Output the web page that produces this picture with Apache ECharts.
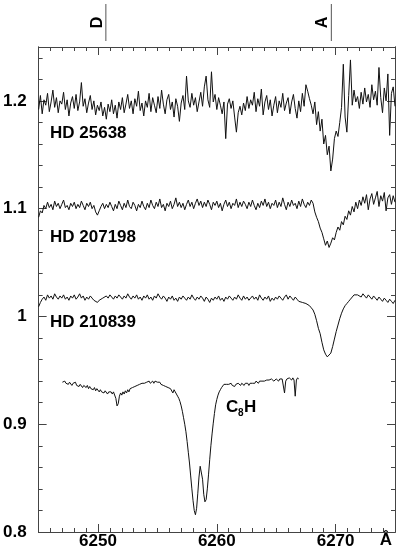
<!DOCTYPE html>
<html><head><meta charset="utf-8">
<script src="https://cdn.jsdelivr.net/npm/echarts@6/dist/echarts.min.js"></script>
<style>html,body{margin:0;padding:0;background:#fff}#c{width:400px;height:556px}</style>
</head><body><div id="c"></div>
<script>
// Stellar spectra sampled on a uniform wavelength grid (Å)
const starWaveStart = 6245.0, starWaveStep = 0.15;
const hd25638 = [
1.192,1.205,1.188,1.201,1.196,1.207,1.190,1.199,1.210,1.194,1.203,1.189,1.200,1.197,1.208,1.192,1.201,1.186,1.198,1.204,
1.193,1.206,1.191,1.199,1.217,1.195,1.202,1.189,1.198,1.205,1.192,1.200,1.187,1.196,1.191,1.199,1.186,1.194,1.183,1.197,
1.190,1.201,1.188,1.196,1.184,1.199,1.192,1.203,1.189,1.197,1.206,1.193,1.200,1.188,1.202,1.195,1.209,1.191,1.198,1.186,
1.200,1.194,1.207,1.190,1.203,1.196,1.189,1.204,1.193,1.210,1.197,1.188,1.201,1.206,1.192,1.199,1.185,1.202,1.195,1.181,
1.198,1.205,1.192,1.223,1.200,1.194,1.207,1.196,1.203,1.190,1.199,1.208,1.195,1.213,1.223,1.201,1.194,1.227,1.199,1.206,
1.192,1.203,1.196,1.188,1.199,1.165,1.197,1.202,1.193,1.200,1.185,1.171,1.189,1.195,1.187,1.198,1.191,1.204,1.193,1.201,
1.196,1.208,1.190,1.202,1.195,1.211,1.187,1.199,1.205,1.192,1.201,1.186,1.196,1.204,1.189,1.200,1.194,1.207,1.191,1.198,
1.203,1.188,1.199,1.206,1.193,1.184,1.200,1.190,1.207,1.195,1.215,1.209,1.202,1.196,1.188,1.199,1.178,1.190,1.172,1.183,
1.160,1.168,1.150,1.158,1.135,1.146,1.165,1.172,1.167,1.180,1.194,1.234,1.185,1.171,1.205,1.238,1.196,1.210,1.199,1.204,
1.193,1.208,1.197,1.212,1.199,1.206,1.194,1.215,1.201,1.209,1.196,1.231,1.203,1.189,1.212,1.200,1.225,1.168,1.207,1.213,1.195
];
const hd207198 = [
1.092,1.098,1.096,1.103,1.100,1.106,1.101,1.104,1.099,1.107,1.102,1.105,1.100,1.104,1.108,1.101,1.103,1.099,1.105,1.102,
1.106,1.100,1.104,1.101,1.107,1.103,1.099,1.105,1.102,1.106,1.100,1.103,1.097,1.094,1.098,1.102,1.105,1.100,1.104,1.101,
1.106,1.102,1.098,1.104,1.100,1.107,1.103,1.099,1.105,1.101,1.108,1.102,1.100,1.106,1.103,1.098,1.104,1.101,1.107,1.102,
1.099,1.105,1.101,1.108,1.103,1.100,1.106,1.102,1.109,1.101,1.104,1.098,1.105,1.102,1.107,1.100,1.104,1.110,1.102,1.106,
1.101,1.105,1.099,1.104,1.108,1.102,1.106,1.100,1.105,1.109,1.103,1.107,1.101,1.106,1.102,1.108,1.104,1.099,1.106,1.103,
1.107,1.101,1.105,1.098,1.104,1.108,1.102,1.106,1.100,1.105,1.103,1.109,1.101,1.106,1.102,1.107,1.104,1.100,1.106,1.102,
1.108,1.103,1.099,1.105,1.101,1.107,1.103,1.109,1.102,1.106,1.100,1.105,1.103,1.108,1.101,1.106,1.102,1.110,1.104,1.099,
1.106,1.102,1.108,1.103,1.105,1.100,1.107,1.102,1.109,1.104,1.101,1.106,1.103,1.108,1.105,1.097,1.092,1.088,1.082,1.078,
1.072,1.066,1.070,1.064,1.068,1.073,1.071,1.078,1.083,1.080,1.088,1.085,1.093,1.090,1.098,1.094,1.102,1.097,1.106,1.100,
1.108,1.103,1.111,1.105,1.113,1.099,1.109,1.114,1.104,1.110,1.116,1.102,1.112,1.107,1.115,1.098,1.110,1.113,1.104,1.112,1.106
];
const hd210839 = [
1.009,1.013,1.016,1.018,1.015,1.020,1.017,1.019,1.016,1.021,1.018,1.016,1.019,1.017,1.020,1.016,1.018,1.015,1.019,1.017,
1.020,1.016,1.018,1.021,1.017,1.019,1.015,1.018,1.016,1.019,1.017,1.015,1.014,1.013,1.015,1.014,1.017,1.016,1.019,1.017,
1.020,1.018,1.016,1.019,1.017,1.020,1.018,1.016,1.019,1.017,1.021,1.018,1.016,1.019,1.017,1.020,1.016,1.018,1.015,1.019,
1.017,1.020,1.016,1.018,1.015,1.019,1.017,1.021,1.018,1.016,1.019,1.017,1.014,1.018,1.016,1.019,1.015,1.017,1.014,1.018,
1.016,1.019,1.017,1.015,1.018,1.016,1.020,1.017,1.015,1.018,1.016,1.019,1.017,1.014,1.018,1.016,1.013,1.017,1.015,1.018,
1.016,1.019,1.015,1.017,1.014,1.018,1.016,1.019,1.017,1.015,1.018,1.016,1.020,1.017,1.015,1.019,1.016,1.018,1.015,1.017,
1.019,1.016,1.018,1.015,1.020,1.017,1.015,1.018,1.016,1.019,1.014,1.017,1.015,1.018,1.016,1.019,1.017,1.015,1.018,1.020,
1.016,1.019,1.017,1.015,1.018,1.016,1.014,1.015,1.013,1.014,1.012,1.011,1.010,1.008,1.006,1.002,0.996,0.989,0.984,0.976,
0.969,0.965,0.9625,0.963,0.966,0.972,0.979,0.986,0.992,0.998,1.003,1.007,1.010,1.012,1.014,1.016,1.018,1.020,1.021,1.020,
1.020,1.018,1.021,1.019,1.017,1.020,1.018,1.016,1.019,1.017,1.015,1.018,1.016,1.014,1.017,1.015,1.013,1.016,1.014,1.012,1.015
];
// Laboratory C8H spectrum
const labWaveStart = 6247.0, labWaveStep = 0.1;
const c8h = [
0.939,0.938,0.940,0.938,0.939,0.937,0.939,0.938,0.936,0.938,0.937,0.939,0.936,0.937,0.935,0.937,0.936,0.934,0.936,0.935,
0.934,0.936,0.933,0.935,0.933,0.934,0.932,0.934,0.931,0.933,0.932,0.930,0.932,0.930,0.931,0.929,0.931,0.930,0.928,0.930,
0.929,0.930,0.928,0.930,0.929,0.924,0.917,0.919,0.926,0.929,0.927,0.930,0.928,0.931,0.929,0.932,0.930,0.933,0.932,0.934,
0.933,0.935,0.934,0.936,0.935,0.937,0.936,0.938,0.937,0.938,0.937,0.939,0.938,0.940,0.938,0.939,0.940,0.938,0.940,0.939,
0.939,0.938,0.939,0.937,0.938,0.936,0.937,0.935,0.936,0.934,0.935,0.933,0.934,0.929,0.932,0.930,0.928,0.926,0.924,0.921,
0.917,0.912,0.906,0.900,0.893,0.884,0.874,0.864,0.852,0.840,0.829,0.820,0.816,0.822,0.836,0.851,0.861,0.860,0.849,0.835,
0.828,0.830,0.840,0.853,0.867,0.880,0.891,0.901,0.910,0.918,0.923,0.927,0.930,0.932,0.934,0.935,0.937,0.936,0.937,0.936,
0.937,0.936,0.938,0.936,0.937,0.935,0.937,0.936,0.938,0.937,0.936,0.938,0.937,0.936,0.938,0.937,0.938,0.936,0.938,0.937,
0.938,0.939,0.938,0.940,0.939,0.938,0.940,0.939,0.940,0.941,0.940,0.939,0.941,0.940,0.941,0.940,0.942,0.941,0.940,0.941,
0.942,0.941,0.940,0.942,0.941,0.942,0.941,0.929,0.940,0.942,0.941,0.943,0.942,0.941,0.943,0.941,0.926,0.941,0.943,0.942
];
const xTickLabels = [6250, 6260, 6270];
const yTickLabels = [0.8, 0.9, 1, 1.1, 1.2];
const markerNames = ['D', 'A'];
const markerWaves = [6250.66, 6269.64];
const seriesNames = ['HD 25638', 'HD 207198', 'HD 210839'];
const xUnit = 'Å';

function toPairs(start, step, vals) {
  return vals.map((v, i) => [+(start + i * step).toFixed(3), v]);
}

const FONT = '"Liberation Sans", Arial, Helvetica, sans-serif';
const AX = '#444';
const chart = echarts.init(document.getElementById('c'), null, {renderer: 'canvas'});

function xAx(pos, major) {
  const a = {
    type: 'value', position: pos, min: 6245, max: 6275, interval: 1,
    axisLine: {show: true, onZero: false, lineStyle: {color: AX, width: 1}},
    splitLine: {show: false},
    axisTick: {show: true, inside: true, length: major ? 8 : 4, lineStyle: {color: AX, width: 1}},
    axisLabel: {show: false}
  };
  if (major) {
    a.axisTick.customValues = xTickLabels;
    if (pos === 'bottom') {
      a.axisLabel = {show: true, customValues: xTickLabels, fontSize: 17, fontWeight: 'bold',
        fontFamily: FONT, color: '#000', margin: 1, formatter: v => String(v)};
    }
  }
  return a;
}
function yAx(pos, major) {
  const a = {
    type: 'value', position: pos, min: 0.8, max: 1.25, interval: 0.02,
    axisLine: {show: true, onZero: false, lineStyle: {color: AX, width: 1}},
    splitLine: {show: false},
    axisTick: {show: true, inside: true, length: major ? 8 : 4, lineStyle: {color: AX, width: 1}},
    axisLabel: {show: false}
  };
  if (major) {
    a.axisTick.customValues = yTickLabels;
    if (pos === 'left') {
      a.axisLabel = {show: true, customValues: yTickLabels, fontSize: 17, fontWeight: 'bold',
        fontFamily: FONT, color: '#000', margin: 12, formatter: v => String(+v.toFixed(2))};
    }
  }
  return a;
}

const lineSeries = (name, data) => ({
  name, type: 'line', data, xAxisIndex: 0, yAxisIndex: 0, showSymbol: false, symbol: 'none',
  lineStyle: {color: '#111', width: 1}, animation: false, silent: true
});

chart.setOption({
  animation: false,
  backgroundColor: '#fff',
  grid: {left: 38, right: 5, top: 47, bottom: 24, containLabel: false},
  xAxis: [xAx('bottom', false), xAx('bottom', true), xAx('top', false), xAx('top', true)],
  yAxis: [yAx('left', false), yAx('left', true), yAx('right', false), yAx('right', true)],
  series: [
    lineSeries(seriesNames[0], toPairs(starWaveStart, starWaveStep, hd25638)),
    lineSeries(seriesNames[1], toPairs(starWaveStart, starWaveStep, hd207198)),
    lineSeries(seriesNames[2], toPairs(starWaveStart, starWaveStep, hd210839)),
    lineSeries('C8H', toPairs(labWaveStart, labWaveStep, c8h))
  ]
});

const txt = (x, y, text, size, extra) => Object.assign({
  type: 'text', x, y, silent: true,
  style: Object.assign({text, font: 'bold ' + size + 'px ' + FONT, fill: '#000',
    textAlign: 'left', textVerticalAlign: 'middle', align: 'left', verticalAlign: 'middle'}, extra || {})
}, {});

const graphics = [
  txt(50, 133, seriesNames[0], 17),
  txt(50, 237, seriesNames[1], 17),
  txt(50, 322, seriesNames[2], 17),
  txt(226, 407, 'C', 17),
  txt(238, 413, '8', 10),
  txt(244, 407, 'H', 17),
  txt(386, 540, xUnit, 17, {textAlign: 'center', align: 'center'})
];
markerWaves.forEach((w, i) => {
  const px = chart.convertToPixel({xAxisIndex: 0}, w);
  graphics.push({type: 'line', silent: true, shape: {x1: px, y1: 4, x2: px, y2: 41},
    style: {stroke: '#555', lineWidth: 1}});
  graphics.push({type: 'text', x: px - 8.5, y: 22.5, rotation: Math.PI / 2, silent: true,
    style: {text: markerNames[i], font: 'bold 16px ' + FONT, fill: '#000',
      textAlign: 'center', textVerticalAlign: 'middle', align: 'center', verticalAlign: 'middle'}});
});
chart.setOption({graphic: graphics});
</script></body></html>
